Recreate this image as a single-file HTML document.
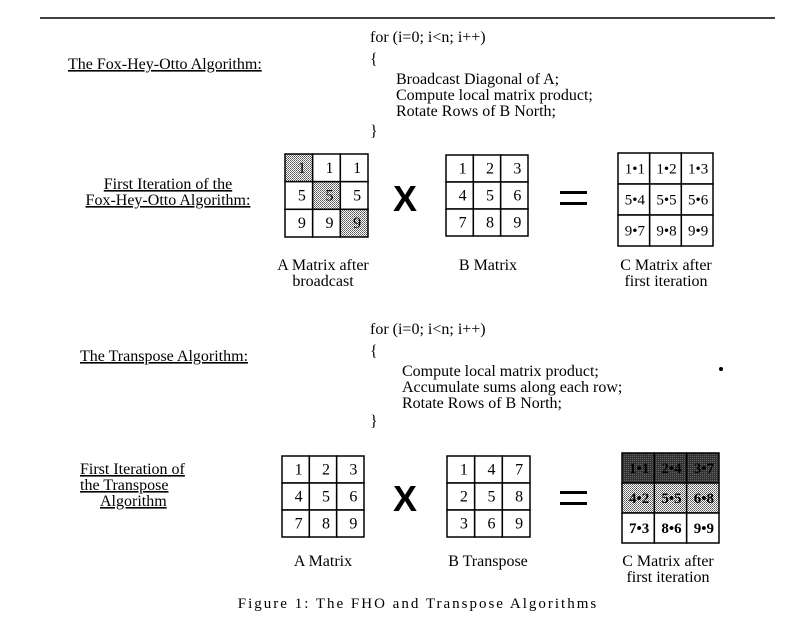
<!DOCTYPE html>
<html><head><meta charset="utf-8"><style>
body{margin:0;background:#fff}
svg{display:block;font-family:"Liberation Serif",serif;font-size:16px;fill:#000}
.u{text-decoration:underline}
</style></head><body>
<svg width="810" height="618" viewBox="0 0 810 618" xmlns="http://www.w3.org/2000/svg">
<defs>
<pattern id="dots" width="2" height="2" patternUnits="userSpaceOnUse"><rect width="2" height="2" fill="#fff"/><rect width="1" height="1" fill="#555"/><rect x="1" y="1" width="1" height="1" fill="#777"/></pattern>
<pattern id="dark" width="2" height="2" patternUnits="userSpaceOnUse"><rect width="2" height="2" fill="#333"/><rect width="1" height="1" fill="#666"/></pattern>
</defs>
<line x1="40" y1="18" x2="775" y2="18" stroke="#000" stroke-width="1.5"/>

<g>
<text x="370" y="42">for (i=0; i&lt;n; i++)</text>
<text x="370" y="64">{</text>
<text x="396" y="84">Broadcast Diagonal of A;</text>
<text x="396" y="100">Compute local matrix product;</text>
<text x="396" y="116">Rotate Rows of B North;</text>
<text x="370" y="136">}</text>
</g>
<text class="u" x="68" y="69">The Fox-Hey-Otto Algorithm:</text>

<g>
<text class="u" x="168" y="189" text-anchor="middle">First Iteration of the</text>
<text class="u" x="168" y="205" text-anchor="middle">Fox-Hey-Otto Algorithm:</text>
</g>

<text x="405" y="211" text-anchor="middle" style="font-family:'Liberation Sans',sans-serif;font-size:36px;font-weight:bold">X</text>
<g><rect x="560" y="191" width="27" height="3"/><rect x="560" y="202" width="27" height="3"/></g>

<text x="323" y="270" text-anchor="middle">A Matrix after</text>
<text x="323" y="286" text-anchor="middle">broadcast</text>
<text x="488" y="270" text-anchor="middle">B Matrix</text>
<text x="666" y="270" text-anchor="middle">C Matrix after</text>
<text x="666" y="286" text-anchor="middle">first iteration</text>

<g>
<text x="370" y="334">for (i=0; i&lt;n; i++)</text>
<text x="370" y="356">{</text>
<text x="402" y="376">Compute local matrix product;</text>
<text x="402" y="392">Accumulate sums along each row;</text>
<text x="402" y="408">Rotate Rows of B North;</text>
<text x="370" y="426">}</text>
</g>
<circle cx="721" cy="369" r="2"/>
<text class="u" x="80" y="361">The Transpose Algorithm:</text>

<g>
<text class="u" x="80" y="474">First Iteration of</text>
<text class="u" x="80" y="490">the Transpose</text>
<text class="u" x="100" y="506">Algorithm</text>
</g>

<text x="405" y="511" text-anchor="middle" style="font-family:'Liberation Sans',sans-serif;font-size:36px;font-weight:bold">X</text>
<g><rect x="560" y="491" width="27" height="3"/><rect x="560" y="502" width="27" height="3"/></g>

<text x="323" y="566" text-anchor="middle">A Matrix</text>
<text x="488" y="566" text-anchor="middle">B Transpose</text>
<text x="668" y="566" text-anchor="middle">C Matrix after</text>
<text x="668" y="582" text-anchor="middle">first iteration</text>

<text x="418" y="608" text-anchor="middle" style="font-size:15px;letter-spacing:2px">Figure 1: The FHO and Transpose Algorithms</text>
</svg>
<script>
const NS="http://www.w3.org/2000/svg";
const svg=document.querySelector('svg');
const aBroadcast=[["1","1","1"],["5","5","5"],["9","9","9"]];
const bMatrix=[["1","2","3"],["4","5","6"],["7","8","9"]];
const cFho=[["1•1","1•2","1•3"],["5•4","5•5","5•6"],["9•7","9•8","9•9"]];
const aMatrix=[["1","2","3"],["4","5","6"],["7","8","9"]];
const bTranspose=[["1","4","7"],["2","5","8"],["3","6","9"]];
const cTranspose=[["1•1","2•4","3•7"],["4•2","5•5","6•8"],["7•3","8•6","9•9"]];
function mat(name,vals,x,y,w,h,fill,bold){
  const g=document.createElementNS(NS,'g');
  
  
  const cw=w/3,ch=h/3;
  for(let r=0;r<3;r++)for(let c=0;c<3;c++){
    const rc=document.createElementNS(NS,'rect');
    rc.setAttribute('x',x+c*cw);rc.setAttribute('y',y+r*ch);
    rc.setAttribute('width',cw);rc.setAttribute('height',ch);
    rc.setAttribute('fill',fill(r,c));rc.setAttribute('stroke','#000');rc.setAttribute('stroke-width','1.5');
    
    
    g.appendChild(rc);
    const t=document.createElementNS(NS,'text');
    t.setAttribute('x',x+c*cw+cw/2+(vals[r][c].length>1?1:3));t.setAttribute('y',y+r*ch+ch/2+5);
    t.setAttribute('text-anchor','middle');
    if(bold)t.setAttribute('font-weight','bold');
    if(vals[r][c].length>1)t.setAttribute('font-size','15');
    t.textContent=vals[r][c];
    
    
    g.appendChild(t);
  }
  svg.appendChild(g);
}
const white=()=>'#fff';
mat('a-matrix-broadcast',aBroadcast,285,154,83,83,(r,c)=>r===c?'url(#dots)':'#fff');
mat('b-matrix',bMatrix,446,155,82,81,white);
mat('c-matrix-fho',cFho,618,153,95,93,white);
mat('a-matrix',aMatrix,282,456,82,81,white);
mat('b-transpose',bTranspose,447,456,83,81,white);
mat('c-matrix-transpose',cTranspose,622,453,97,90,(r)=>r===0?'url(#dark)':r===1?'url(#dots)':'#fff',true);
</script>
</body></html>
